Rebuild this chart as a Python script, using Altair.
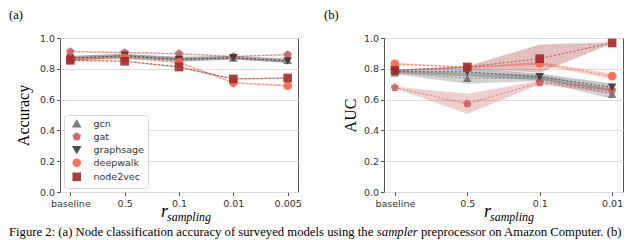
import altair as alt
import pandas as pd

models = ["gcn", "gat", "graphsage", "deepwalk", "node2vec"]
colors = ["#6e6e6e", "#cd5c5c", "#383838", "#ff6347", "#a52a2a"]
pentagon = "M0,-1L0.951,-0.309L0.588,0.809L-0.588,0.809L-0.951,-0.309Z"
shapes = ["triangle-up", pentagon, "triangle-down", "circle", "square"]

# (a) node classification accuracy
acc_x = ["baseline", "0.5", "0.1", "0.01", "0.005"]
acc_mean = {
    "gcn":       [0.870, 0.880, 0.865, 0.870, 0.855],
    "gat":       [0.912, 0.905, 0.898, 0.880, 0.892],
    "graphsage": [0.868, 0.886, 0.860, 0.872, 0.850],
    "deepwalk":  [0.860, 0.872, 0.842, 0.710, 0.690],
    "node2vec":  [0.855, 0.849, 0.812, 0.734, 0.740],
}
acc_std = {
    "gcn":       [0.015, 0.015, 0.015, 0.012, 0.015],
    "gat":       [0.005, 0.005, 0.005, 0.005, 0.005],
    "graphsage": [0.015, 0.012, 0.015, 0.012, 0.012],
    "deepwalk":  [0.005, 0.006, 0.006, 0.005, 0.006],
    "node2vec":  [0.004, 0.004, 0.006, 0.005, 0.005],
}

# (b) link prediction AUC
auc_x = ["baseline", "0.5", "0.1", "0.01"]
auc_mean = {
    "gcn":       [0.775, 0.738, 0.740, 0.634],
    "gat":       [0.678, 0.573, 0.710, 0.660],
    "graphsage": [0.782, 0.780, 0.748, 0.680],
    "deepwalk":  [0.832, 0.810, 0.835, 0.752],
    "node2vec":  [0.790, 0.812, 0.866, 0.968],
}
auc_std = {
    "gcn":       [0.010, 0.035, 0.020, 0.030],
    "gat":       [0.005, 0.065, 0.012, 0.020],
    "graphsage": [0.010, 0.030, 0.020, 0.025],
    "deepwalk":  [0.008, 0.005, 0.010, 0.018],
    "node2vec":  [0.006, 0.005, 0.092, 0.004],
}

y_ticks = [0.0, 0.2, 0.4, 0.6, 0.8, 1.0]

caption1 = "Figure 2: (a) Node classification accuracy of surveyed models using the"
caption2 = "sampler"
caption3 = "preprocessor on Amazon Computer. (b)"

W, H = 238, 154
SERIF = "Liberation Serif"
SANS = "DejaVu Sans"
CAP = 12.7


def make_df(xcats, mean, std):
    rows = []
    for m in models:
        for i, r in enumerate(xcats):
            rows.append({"model": m, "r": r, "mean": mean[m][i],
                         "lo": mean[m][i] - std[m][i], "hi": mean[m][i] + std[m][i]})
    return pd.DataFrame(rows)


def text_layer(txt, x, y, size, italic=False, baseline="alphabetic", font=SERIF):
    return alt.Chart(pd.DataFrame({"t": [txt]})).mark_text(
        align="left", baseline=baseline, font=font, fontSize=size,
        fontStyle="italic" if italic else "normal", color="black"
    ).encode(x=alt.value(x), y=alt.value(y), text="t:N")


def panel(xcats, mean, std, ytitle, tpad, xpad, label, label_x, rx, leg_x, caption=False):
    df = make_df(xcats, mean, std)
    xenc = alt.X("r:N", sort=xcats,
                 scale=alt.Scale(type="point", domain=xcats, padding=xpad),
                 axis=alt.Axis(title=None, labelAngle=0, grid=False, domain=False,
                               labelFont=SANS, labelFontSize=9.5, labelColor="#333",
                               tickColor="#555", tickSize=3.5, labelPadding=3))
    yscale = alt.Scale(domain=[0, 1], nice=False, zero=True)
    yaxis = alt.Axis(title=ytitle, values=y_ticks, tickCount=6, format=".1f",
                     grid=True, gridColor="#dcdcdc", domain=False,
                     labelFont=SANS, labelFontSize=9.5, labelColor="#333",
                     tickColor="#555", tickSize=3.5, labelPadding=2,
                     labelOverlap=False,
                     titleFont=SERIF, titleFontSize=16, titleFontWeight="normal",
                     titleColor="black", titlePadding=tpad)
    leg = alt.Legend(title=None, orient="none", legendX=leg_x, legendY=77,
                     labelFont=SANS, labelFontSize=9.5, labelColor="#333",
                     symbolSize=50, symbolOpacity=0.9, rowPadding=0, padding=4,
                     symbolOffset=4, labelOffset=12,
                     fillColor="white", strokeColor="#d8d8d8", cornerRadius=3)
    cenc = alt.Color("model:N", scale=alt.Scale(domain=models, range=colors), legend=leg)
    senc = alt.Shape("model:N", scale=alt.Scale(domain=models, range=shapes), legend=leg)
    base = alt.Chart(df).encode(x=xenc, color=cenc)
    band = base.mark_area(opacity=0.3).encode(
        y=alt.Y("lo:Q", stack=None, scale=yscale, axis=yaxis), y2="hi:Q")
    line = base.mark_line(strokeDash=[2, 2], strokeWidth=1, opacity=0.75).encode(
        y=alt.Y("mean:Q", scale=yscale, axis=yaxis))
    pts = base.mark_point(filled=True, size=75, opacity=0.9).encode(
        y=alt.Y("mean:Q", scale=yscale, axis=yaxis), shape=senc)
    layers = [band, line, pts,
              text_layer(label, label_x, -29, 12.5, baseline="top"),
              text_layer("r", rx, H + 25, 18, italic=True),
              text_layer("sampling", rx + 6, H + 29, 12, italic=True)]
    if caption:
        layers += [text_layer(caption1, -51, H + 44, CAP),
                   text_layer(caption2, -51 + 28.966 * CAP, H + 44, CAP, italic=True),
                   text_layer(caption3, -51 + 32.438 * CAP, H + 44, CAP)]
    return alt.layer(*layers).properties(width=W, height=H)


left = panel(acc_x, acc_mean, acc_std, "Accuracy", 8, 0.19, "(a)", -51, 101, 4, caption=True)
right = panel(auc_x, auc_mean, auc_std, "AUC", 5, 0.15, "(b)", -60, 100, 5).properties(width=239)

chart = alt.hconcat(left, right, spacing=86, bounds="flush").properties(
    padding={"left": 0, "top": 0, "right": 0, "bottom": 0}
).configure_view(stroke="#555", strokeWidth=1)

chart.save("out.html", embed_options={"renderer": "svg", "actions": False})
